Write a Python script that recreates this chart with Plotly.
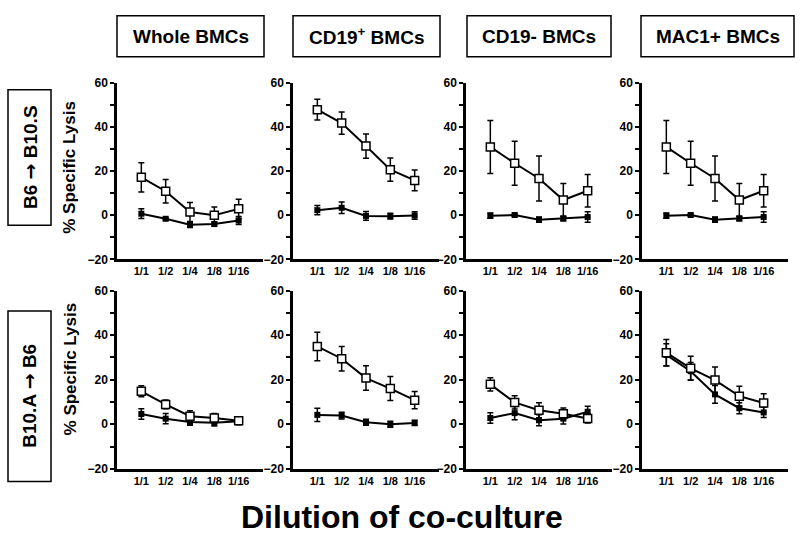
import plotly.graph_objects as go

# ---------------- data ----------------
dilutions = ["1/1", "1/2", "1/4", "1/8", "1/16"]
panel_titles = ["Whole BMCs", "CD19<sup>+</sup> BMCs", "CD19- BMCs", "MAC1+ BMCs"]
row_labels = ["B6 <span style='font-family:DejaVu Sans'>→</span> B10.S",
              "B10.A <span style='font-family:DejaVu Sans'>→</span> B6"]
y_title = "% Specific Lysis"
x_title = "Dilution of co-culture"

# top row (B6 -> B10.S)
whole_top_open = [17.2, 10.9, 1.5, 0.0, 2.9]
whole_top_open_err = [6.6, 5.3, 4.3, 3.7, 4.4]
whole_top_filled = [0.7, -1.6, -4.3, -4.0, -2.4]
whole_top_filled_err = [2.2, 0.5, 1.2, 1.0, 1.8]

cd19p_top_open = [47.9, 41.8, 31.4, 20.7, 15.8]
cd19p_top_open_err = [4.7, 5.1, 5.5, 5.3, 4.7]
cd19p_top_filled = [2.3, 3.4, -0.3, -0.4, -0.1]
cd19p_top_filled_err = [2.1, 2.6, 2.0, 1.3, 1.7]

cd19n_top_open = [31.0, 23.6, 16.7, 6.9, 11.1]
cd19n_top_open_err = [12.0, 10.0, 10.2, 7.5, 7.4]
cd19n_top_filled = [-0.2, 0.1, -2.0, -1.5, -0.8]
cd19n_top_filled_err = [1.2, 0.5, 1.2, 1.0, 2.4]

mac1_top_open = [31.0, 23.6, 16.7, 6.9, 11.1]
mac1_top_open_err = [12.0, 10.0, 10.2, 7.5, 7.4]
mac1_top_filled = [-0.2, 0.1, -2.0, -1.5, -0.8]
mac1_top_filled_err = [1.2, 0.5, 1.2, 1.0, 2.4]

# bottom row (B10.A -> B6)
whole_bot_open = [14.8, 8.9, 3.6, 2.8, 1.6]
whole_bot_open_err = [2.5, 2.0, 2.5, 2.0, 1.5]
whole_bot_filled = [4.6, 2.5, 1.0, 0.7, 1.3]
whole_bot_filled_err = [2.4, 2.3, 1.5, 1.5, 1.5]

cd19p_bot_open = [34.9, 29.4, 20.7, 16.0, 10.8]
cd19p_bot_open_err = [6.4, 5.5, 5.5, 5.4, 3.9]
cd19p_bot_filled = [4.2, 3.9, 0.9, 0.0, 0.6]
cd19p_bot_filled_err = [3.0, 1.5, 1.3, 1.3, 1.2]

cd19n_bot_open = [17.9, 9.8, 6.3, 4.7, 2.6]
cd19n_bot_open_err = [3.0, 3.0, 3.4, 2.6, 2.0]
cd19n_bot_filled = [2.8, 5.0, 1.8, 2.5, 5.6]
cd19n_bot_filled_err = [2.4, 3.0, 2.5, 2.4, 2.5]

mac1_bot_open = [32.1, 25.1, 19.8, 12.6, 9.5]
mac1_bot_open_err = [5.9, 5.4, 5.9, 4.4, 4.2]
mac1_bot_filled = [31.1, 23.8, 13.4, 7.2, 5.3]
mac1_bot_filled_err = [5.0, 3.9, 4.0, 2.5, 2.3]

y_ticks = [-20, 0, 20, 40, 60]

# ---------------- layout helpers ----------------
W, H = 800, 545
FONT = "Liberation Sans, Arial, sans-serif"


def px(x):
    return x / W


def py(y):
    return 1 - y / H


panel_x = [(117, 263), (293, 439), (466, 612), (642, 788)]
row_y = [(78, 259), (291, 474)]  # (top px, bottom px)

panels = [
    (whole_top_open, whole_top_open_err, whole_top_filled, whole_top_filled_err),
    (cd19p_top_open, cd19p_top_open_err, cd19p_top_filled, cd19p_top_filled_err),
    (cd19n_top_open, cd19n_top_open_err, cd19n_top_filled, cd19n_top_filled_err),
    (mac1_top_open, mac1_top_open_err, mac1_top_filled, mac1_top_filled_err),
    (whole_bot_open, whole_bot_open_err, whole_bot_filled, whole_bot_filled_err),
    (cd19p_bot_open, cd19p_bot_open_err, cd19p_bot_filled, cd19p_bot_filled_err),
    (cd19n_bot_open, cd19n_bot_open_err, cd19n_bot_filled, cd19n_bot_filled_err),
    (mac1_bot_open, mac1_bot_open_err, mac1_bot_filled, mac1_bot_filled_err),
]

fig = go.Figure()
layout = {}

for i, (op, ope, fi, fie) in enumerate(panels):
    r, c = divmod(i, 4)
    n = i + 1
    xa = "x" if n == 1 else f"x{n}"
    ya = "y" if n == 1 else f"y{n}"
    # filled series
    fig.add_trace(go.Scatter(
        x=dilutions, y=fi, xaxis=xa, yaxis=ya, mode="lines+markers",
        line=dict(color="black", width=2),
        marker=dict(symbol="square", size=6, color="black"),
        error_y=dict(type="data", array=fie, visible=True, color="black",
                     thickness=1.5, width=3),
        showlegend=False, cliponaxis=False))
    # open series
    fig.add_trace(go.Scatter(
        x=dilutions, y=op, xaxis=xa, yaxis=ya, mode="lines+markers",
        line=dict(color="black", width=2),
        marker=dict(symbol="square", size=8, color="white",
                    line=dict(color="black", width=1.5)),
        error_y=dict(type="data", array=ope, visible=True, color="black",
                     thickness=1.5, width=3),
        showlegend=False, cliponaxis=False))

    x0, x1 = panel_x[c]
    ytop, ybot = row_y[r]
    xkey = "xaxis" if n == 1 else f"xaxis{n}"
    ykey = "yaxis" if n == 1 else f"yaxis{n}"
    layout[xkey] = dict(
        domain=[px(x0), px(x1)], anchor=ya, type="category",
        categoryorder="array", categoryarray=dilutions,
        range=[-1, 5], showline=True, linecolor="black", linewidth=2.5,
        showgrid=False, zeroline=False, ticks="",
        tickfont=dict(family=FONT, size=11, color="black", weight="bold"),
        fixedrange=True)
    layout[ykey] = dict(
        domain=[py(ybot), py(ytop)], anchor=xa, range=[-20, 60],
        tickvals=y_ticks, showline=True, linecolor="black", linewidth=2.5,
        showgrid=False, zeroline=False, ticks="outside", ticklen=4,
        tickwidth=2, tickcolor="black",
        minor=dict(dtick=10, tick0=0, ticks="outside", ticklen=4,
                   tickwidth=2, tickcolor="black"),
        tickfont=dict(family=FONT, size=12, color="black", weight="bold"),
        fixedrange=True)

shapes = []
annotations = []

# column headers
header_boxes = [(117, 264), (293, 440), (467, 611), (641, 794)]
for (bx0, bx1), title in zip(header_boxes, panel_titles):
    shapes.append(dict(type="rect", xref="paper", yref="paper",
                       x0=px(bx0), x1=px(bx1), y0=py(51), y1=py(9),
                       line=dict(color="black", width=1.5)))
    annotations.append(dict(xref="paper", yref="paper",
                            x=px((bx0 + bx1) / 2), y=py(30), text=title,
                            showarrow=False, xanchor="center", yanchor="middle",
                            font=dict(family=FONT, size=19, color="black",
                                      weight="bold")))

# row labels
row_boxes = [(85, 224), (312, 487)]
for (by0, by1), lab in zip(row_boxes, row_labels):
    shapes.append(dict(type="rect", xref="paper", yref="paper",
                       x0=px(8), x1=px(51), y0=py(by1), y1=py(by0),
                       line=dict(color="black", width=1.5)))
    annotations.append(dict(xref="paper", yref="paper",
                            x=px(29.5), y=py((by0 + by1) / 2), text=lab,
                            showarrow=False, textangle=-90,
                            xanchor="center", yanchor="middle",
                            font=dict(family=FONT, size=19, color="black",
                                      weight="bold")))

# y titles
for yc in (165, 372):
    annotations.append(dict(xref="paper", yref="paper",
                            x=px(70), y=py(yc), text=y_title,
                            showarrow=False, textangle=-90,
                            xanchor="center", yanchor="middle",
                            font=dict(family=FONT, size=17, color="black",
                                      weight="bold")))

# x title
annotations.append(dict(xref="paper", yref="paper",
                        x=px(402), y=py(523), text=x_title,
                        showarrow=False, xanchor="center", yanchor="middle",
                        font=dict(family=FONT, size=32, color="black",
                                  weight="bold")))

fig.update_layout(
    width=W, height=H, margin=dict(l=0, r=0, t=0, b=0),
    paper_bgcolor="white", plot_bgcolor="white",
    shapes=shapes, annotations=annotations, **layout)

fig.write_html("out.html",
               config={"displayModeBar": False},
               post_script="document.body.style.margin='0';"
                           "document.body.style.overflow='hidden';")
